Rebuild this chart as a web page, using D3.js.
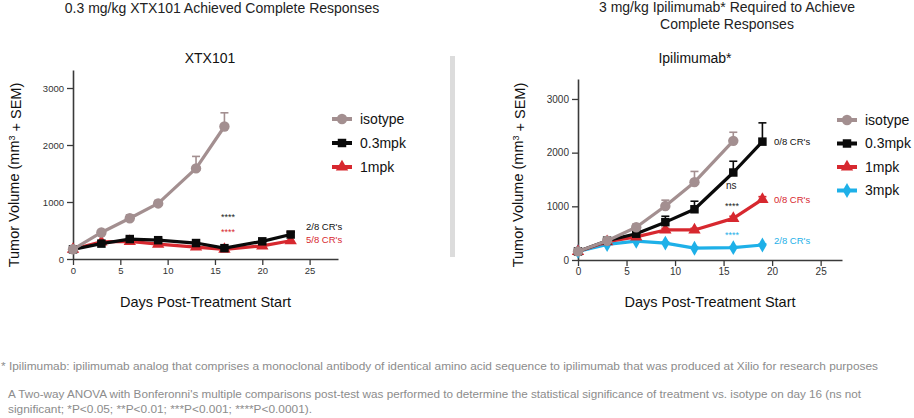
<!DOCTYPE html>
<html>
<head>
<meta charset="utf-8">
<script src="https://cdn.jsdelivr.net/npm/d3@7"></script>
<style>
  html, body { margin: 0; padding: 0; background: #fff; }
  svg { display: block; font-family: "Liberation Sans", Arial, sans-serif; }
</style>
</head>
<body>
<svg id="chart" width="914" height="418"></svg>
<script>
// ---------------- DATA ----------------
const xTicks = [0, 5, 10, 15, 20, 25];
const yTicks = [0, 1000, 2000, 3000];

// Left panel: XTX101
const leftIsoDays   = [0, 3, 6, 9, 13, 16];
const leftIsoVals   = [170, 465, 715, 975, 1590, 2325];
const leftIsoSem    = [10, 30, 60, 50, 210, 240];
const leftLowDays   = [0, 3, 6, 9, 13, 16, 20, 23];
const leftLowVals   = [170, 270, 350, 330, 280, 190, 310, 430];
const leftLowSem    = [10, 20, 30, 30, 30, 20, 30, 40];
const leftHighDays  = [0, 3, 6, 9, 13, 16, 20, 23];
const leftHighVals  = [170, 300, 310, 260, 210, 170, 230, 320];
const leftHighSem   = [10, 20, 30, 30, 20, 20, 30, 160];

// Right panel: Ipilimumab*
const rightIsoDays  = [0, 3, 6, 9, 12, 16];
const rightIsoVals  = [160, 360, 610, 1005, 1450, 2220];
const rightIsoSem   = [10, 30, 60, 110, 200, 160];
const rightLowDays  = [0, 3, 6, 9, 12, 16, 19];
const rightLowVals  = [160, 360, 490, 705, 945, 1630, 2205];
const rightLowSem   = [10, 30, 40, 110, 150, 210, 350];
const rightMidDays  = [0, 3, 6, 9, 12, 16, 19];
const rightMidVals  = [160, 340, 430, 560, 560, 775, 1130];
const rightMidSem   = [10, 20, 30, 30, 30, 40, 50];
const rightHighDays = [0, 3, 6, 9, 12, 16, 19];
const rightHighVals = [160, 290, 350, 315, 220, 230, 280];
const rightHighSem  = [10, 20, 20, 20, 20, 20, 20];

const leftLegend  = ["isotype", "0.3mpk", "1mpk"];
const rightLegend = ["isotype", "0.3mpk", "1mpk", "3mpk"];

// ---------------- STYLE ----------------
const C = { iso: "#a38f90", black: "#0a0a0a", red: "#d7282f", cyan: "#1eb0e8" };
const axisColor = "#3a3a3a";
const svg = d3.select("#chart");

function symbolFor(kind) {
  if (kind === "circle") return d3.symbol().type(d3.symbolCircle).size(85);
  if (kind === "square") return d3.symbol().type(d3.symbolSquare).size(72);
  if (kind === "triangle") return d3.symbol().type(d3.symbolTriangle).size(66);
  return d3.symbol().type(d3.symbolDiamond).size(64);
}

function panel(cfg) {
  const g = svg.append("g");
  const x = d3.scaleLinear().domain(cfg.xDomain).range(cfg.xRange);
  const y = d3.scaleLinear().domain(cfg.yDomain).range(cfg.yRange);

  // axes
  const xa = g.append("g").attr("transform", `translate(0,${cfg.yRange[0]})`)
    .call(d3.axisBottom(x).tickValues(xTicks).tickFormat(d3.format("d")).tickSize(6).tickPadding(2).tickSizeOuter(0));
  const ya = g.append("g").attr("transform", `translate(${cfg.xRange[0]},0)`)
    .call(d3.axisLeft(y).tickValues(yTicks).tickFormat(d3.format("d")).tickSize(6).tickPadding(3).tickSizeOuter(0));
  [xa, ya].forEach(a => {
    a.select(".domain").attr("stroke", axisColor).attr("stroke-width", 1.6);
    a.selectAll(".tick line").attr("stroke", axisColor).attr("stroke-width", 1.3);
    a.selectAll(".tick text").attr("fill", "#333").style("font-size", cfg.tickSize + "px")
      .style("font-family", "'Liberation Sans', Arial, sans-serif");
  });

  const line = d3.line().x(d => x(d[0])).y(d => y(d[1]));

  cfg.series.forEach(s => {
    const pts = s.days.map((d, i) => [d, s.vals[i], s.sem[i]]);
    // error bars (upper only)
    const eb = g.append("g").attr("stroke", s.color).attr("stroke-width", 1.6).attr("fill", "none");
    pts.forEach(p => {
      const x0 = x(p[0]), yv = y(p[1]), yt = y(p[1] + p[2]);
      eb.append("line").attr("x1", x0).attr("x2", x0).attr("y1", yv).attr("y2", yt);
      eb.append("line").attr("x1", x0 - 4).attr("x2", x0 + 4).attr("y1", yt).attr("y2", yt);
    });
    g.append("path").datum(pts).attr("d", line)
      .attr("fill", "none").attr("stroke", s.color).attr("stroke-width", 3.2)
      .attr("stroke-linejoin", "round");
    const sym = symbolFor(s.marker);
    g.append("g").selectAll("path").data(pts).join("path")
      .attr("d", sym)
      .attr("transform", d => `translate(${x(d[0])},${y(d[1])})`)
      .attr("fill", s.color);
  });

  // legend
  const lg = g.append("g");
  cfg.legend.forEach((name, i) => {
    const s = cfg.legendSeries[i];
    const yy = cfg.legendY + i * cfg.legendStep;
    lg.append("line").attr("x1", cfg.legendX).attr("x2", cfg.legendX + 20)
      .attr("y1", yy).attr("y2", yy).attr("stroke", s.color).attr("stroke-width", 4);
    lg.append("path").attr("d", symbolFor(s.marker)())
      .attr("transform", `translate(${cfg.legendX + 10},${yy})`).attr("fill", s.color);
    lg.append("text").attr("x", cfg.legendX + 28).attr("y", yy).attr("dy", "0.35em")
      .attr("fill", "#111").style("font-size", "14px").text(name);
  });

  // axis titles
  g.append("text").attr("x", (cfg.xRange[0] + cfg.xRange[1]) / 2).attr("y", 307)
    .attr("text-anchor", "middle").attr("fill", "#111").style("font-size", "14.5px")
    .text("Days Post-Treatment Start");
  const yl = g.append("text")
    .attr("transform", `translate(${cfg.yLabelX},${cfg.yLabelY}) rotate(-90)`)
    .attr("text-anchor", "middle").attr("fill", "#111").style("font-size", "14.5px");
  yl.append("tspan").text("Tumor Volume (mm");
  yl.append("tspan").attr("dy", "-0.45em").style("font-size", "9px").text("3");
  yl.append("tspan").attr("dy", "0.45em").text(" + SEM)");

  // panel title
  g.append("text").attr("x", cfg.titleX).attr("y", 63).attr("text-anchor", "middle")
    .attr("fill", "#111").style("font-size", "14px").text(cfg.title);

  // annotations
  cfg.notes.forEach(n => {
    g.append("text").attr("x", n.x).attr("y", n.y).attr("dy", "0.35em")
      .attr("fill", n.color).style("font-size", n.size + "px").text(n.text);
  });
}

const leftSeries = {
  iso:  { days: leftIsoDays,  vals: leftIsoVals,  sem: leftIsoSem,  color: C.iso,   marker: "circle" },
  low:  { days: leftLowDays,  vals: leftLowVals,  sem: leftLowSem,  color: C.black, marker: "square" },
  high: { days: leftHighDays, vals: leftHighVals, sem: leftHighSem, color: C.red,   marker: "triangle" }
};
panel({
  xDomain: [0, 28], xRange: [73, 338],
  yDomain: [0, 3316], yRange: [259, 70],
  tickSize: 9.5,
  series: [leftSeries.high, leftSeries.low, leftSeries.iso],
  legend: leftLegend, legendSeries: [leftSeries.iso, leftSeries.low, leftSeries.high],
  legendX: 332, legendY: 119, legendStep: 24,
  yLabelX: 19, yLabelY: 175,
  titleX: 210, title: "XTX101",
  notes: [
    { x: 221, y: 217, text: "****", color: "#222", size: 9 },
    { x: 221, y: 232, text: "****", color: C.red, size: 9 },
    { x: 306, y: 227, text: "2/8 CR's", color: "#111", size: 9.5 },
    { x: 306, y: 240, text: "5/8 CR's", color: C.red, size: 9.5 }
  ]
});

const rightSeries = {
  iso:  { days: rightIsoDays,  vals: rightIsoVals,  sem: rightIsoSem,  color: C.iso,   marker: "circle" },
  low:  { days: rightLowDays,  vals: rightLowVals,  sem: rightLowSem,  color: C.black, marker: "square" },
  mid:  { days: rightMidDays,  vals: rightMidVals,  sem: rightMidSem,  color: C.red,   marker: "triangle" },
  high: { days: rightHighDays, vals: rightHighVals, sem: rightHighSem, color: C.cyan,  marker: "diamond" }
};
panel({
  xDomain: [0, 27.2], xRange: [578, 842],
  yDomain: [0, 3372], yRange: [260, 79],
  tickSize: 10,
  series: [rightSeries.high, rightSeries.mid, rightSeries.low, rightSeries.iso],
  legend: rightLegend, legendSeries: [rightSeries.iso, rightSeries.low, rightSeries.mid, rightSeries.high],
  legendX: 837, legendY: 120, legendStep: 23.5,
  yLabelX: 523, yLabelY: 175,
  titleX: 695, title: "Ipilimumab*",
  notes: [
    { x: 774, y: 142, text: "0/8 CR's", color: "#111", size: 9.5 },
    { x: 726, y: 185, text: "ns", color: "#222", size: 10 },
    { x: 725, y: 206, text: "****", color: "#222", size: 9 },
    { x: 774, y: 200, text: "0/8 CR's", color: C.red, size: 9.5 },
    { x: 725, y: 235, text: "****", color: C.cyan, size: 9 },
    { x: 774, y: 241, text: "2/8 CR's", color: C.cyan, size: 9.5 }
  ]
});

// separator
svg.append("rect").attr("x", 450).attr("y", 56).attr("width", 5).attr("height", 201).attr("fill", "#dcdcdc");

// headline titles
svg.append("text").attr("x", 222).attr("y", 13).attr("text-anchor", "middle")
  .attr("fill", "#222").style("font-size", "14px").text("0.3 mg/kg XTX101 Achieved Complete Responses");
svg.append("text").attr("x", 727).attr("y", 12).attr("text-anchor", "middle")
  .attr("fill", "#222").style("font-size", "14px").text("3 mg/kg Ipilimumab* Required to Achieve");
svg.append("text").attr("x", 727).attr("y", 29).attr("text-anchor", "middle")
  .attr("fill", "#222").style("font-size", "14px").text("Complete Responses");

// footnotes
const foot = [
  { x: 1, y: 370, w: 877, t: "* Ipilimumab: ipilimumab analog that comprises a monoclonal antibody of identical amino acid sequence to ipilimumab that was produced at Xilio for research purposes" },
  { x: 8, y: 398, w: 853, t: "A Two-way ANOVA with Bonferonni's multiple comparisons post-test was performed to determine the statistical significance of treatment vs. isotype on day 16 (ns not" },
  { x: 8, y: 413, w: 304, t: "significant; *P<0.05; **P<0.01; ***P<0.001; ****P<0.0001)." }
];
foot.forEach(f => {
  svg.append("text").attr("x", f.x).attr("y", f.y).attr("fill", "#8c8c8c")
    .style("font-size", "11px").attr("textLength", f.w).attr("lengthAdjust", "spacingAndGlyphs").text(f.t);
});
</script>
</body>
</html>
